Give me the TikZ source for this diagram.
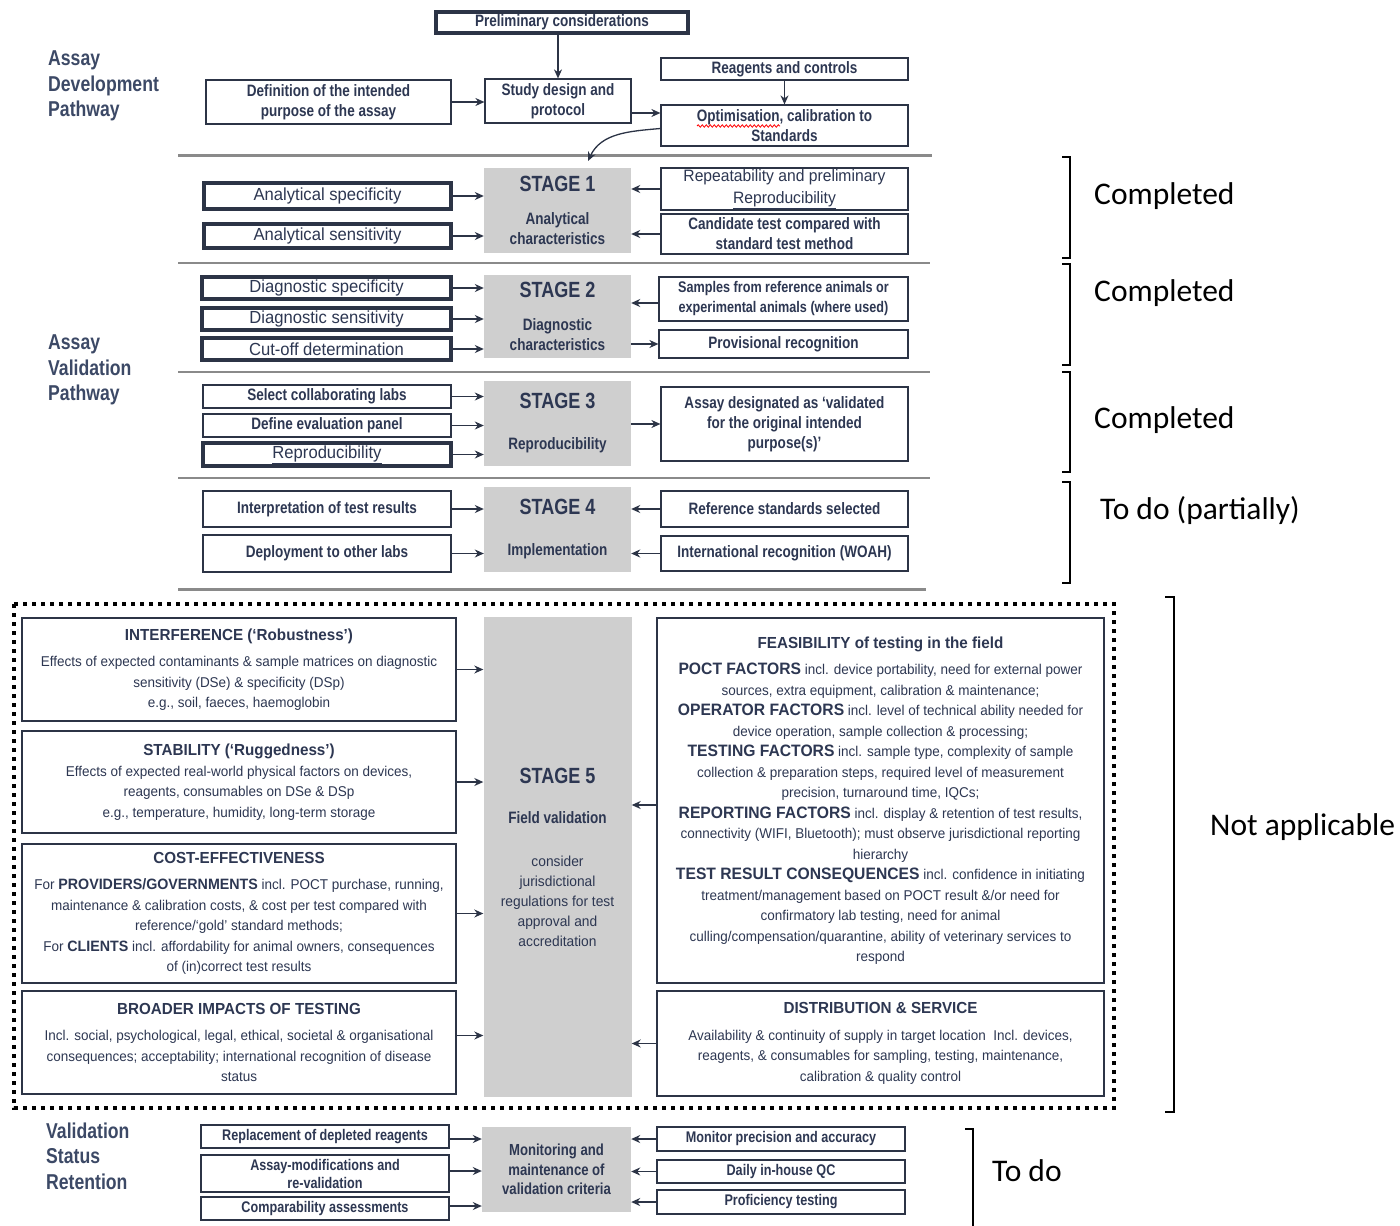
\documentclass[tikz,border=0pt]{standalone}
\usepackage{fontspec}
\setmainfont{Liberation Sans}
\newfontfamily\narrowfont[FakeStretch=0.82]{Liberation Sans}
\newfontfamily\bodyfont[FakeStretch=0.95]{Liberation Sans}
\newfontfamily\notefont{Carlito}
\usetikzlibrary{arrows.meta,decorations.pathmorphing}
\definecolor{ink}{HTML}{2D3752}
\definecolor{boxline}{HTML}{2C3446}
\definecolor{stagegray}{HTML}{CFCFCF}
\definecolor{sepgray}{HTML}{8A8A8A}
\definecolor{sidecol}{HTML}{3C4966}
\newcommand\stagetitle[1]{{\narrowfont\bfseries\fontsize{22}{26}\selectfont #1}}
\newcommand\kw[1]{{\bfseries\fontsize{16.5}{20}\selectfont #1}}
\newcommand\kwc[1]{{\bfseries\fontsize{15}{20}\selectfont #1}}
\tikzset{
  box/.style={draw=boxline, line width=1.2pt, fill=white, inner sep=1pt, align=center, text=ink},
  thickbox/.style={box, line width=3.4pt},
  lbl/.style={font=\narrowfont\bfseries\fontsize{16.5}{20}\selectfont},
  lbls/.style={font=\narrowfont\bfseries\fontsize{15.4}{20}\selectfont},
  big/.style={font=\bodyfont\fontsize{17.5}{22}\selectfont},
  body/.style={font=\bodyfont\fontsize{14.2}{20.5}\selectfont},
  stagebox/.style={fill=stagegray, inner sep=0pt, align=center, text=ink, font=\narrowfont\bfseries\fontsize{16.5}{20}\selectfont},
  arr/.style={draw=boxline, line width=1.3pt, -{Stealth[length=9pt,width=8pt]}},
  sepmajor/.style={draw=sepgray, line width=3pt},
  sepminor/.style={draw=sepgray, line width=1.8pt},
  bracket/.style={draw=black, line width=1.2pt},
  note/.style={font=\notefont\fontsize{31.5}{36}\selectfont, anchor=west, inner sep=0pt, text=black},
  side/.style={font=\narrowfont\bfseries\fontsize{21.5}{25.5}\selectfont, text=sidecol, align=left, anchor=west, inner sep=0pt},
  dotbox/.style={draw=black, line width=4pt, dash pattern=on 4pt off 5pt},
}
\begin{document}
\begin{tikzpicture}[x=1pt,y=-1pt]
\useasboundingbox (0,0) rectangle (1400,1226);
\fill[white] (0,0) rectangle (1400,1226);

% ---------- side labels ----------
\node[side] (adp) at (48,86) {Assay\\Development\\Pathway};
\node[side] (avp) at (48,370) {Assay\\Validation\\Pathway};
\node[side] (vsr) at (46,1156) {Validation\\Status\\Retention};

% ---------- development pathway ----------
\node[thickbox, lbl, minimum width=252, minimum height=21] (prelim) at (562,22.5) {Preliminary considerations};
\node[box, lbl, minimum width=245, minimum height=44] (def) at (328.5,102) {Definition of the intended\\purpose of the assay};
\node[box, lbl, minimum width=146, minimum height=44] (study) at (558,101) {Study design and\\protocol};
\node[box, lbl, minimum width=247, minimum height=22] (reag) at (784.5,69) {Reagents and controls};
\node[box, lbl, minimum width=247, minimum height=41] (opt) at (784.5,125.5) {Optimisation, calibration to\\Standards};
\draw[red, line width=0.8pt, decorate, decoration={snake, amplitude=1.2pt, segment length=4pt}] (697,126) -- (780,126);

\draw[arr] (prelim.south -| study.north) -- (study.north);
\draw[arr] (def) -- (def -| study.west);
\draw[arr] ([yshift=-12pt]study.east) -- ([yshift=-12pt]study.east -| opt.west);
\draw[arr] (reag) -- (opt);

\draw[sepmajor] (178,155) -- (932,155);
\coordinate (cend) at (588,161);
\draw[arr] ([yshift=-3pt]opt.west) to[out=185,in=65] (cend);

% ---------- stage 1 ----------
\node[stagebox, minimum width=147, minimum height=85] (s1) at (557.5,210.5) {\stagetitle{STAGE 1}\\[13pt]Analytical\\characteristics};
\node[thickbox, big, minimum width=247, minimum height=26] (as1) at (327.5,196) {Analytical specificity};
\node[thickbox, big, minimum width=247, minimum height=24] (as2) at (327.5,236) {Analytical sensitivity};
\node[box, font=\bodyfont\fontsize{16.5}{22}\selectfont, minimum width=247, minimum height=42] (r1) at (784.5,189) {Repeatability and preliminary\\\underline{Reproducibility}};
\node[box, lbl, minimum width=247, minimum height=40] (r2) at (784.5,234) {Candidate test compared with\\standard test method};
\draw[arr] (as1) -- (as1 -| s1.west);
\draw[arr] (as2) -- (as2 -| s1.west);
\draw[arr] (r1) -- (r1 -| s1.east);
\draw[arr] (r2) -- (r2 -| s1.east);
\draw[sepminor] (178,263) -- (930,263);

% ---------- stage 2 ----------
\node[stagebox, minimum width=147, minimum height=83] (s2) at (557.5,316.5) {\stagetitle{STAGE 2}\\[13pt]Diagnostic\\characteristics};
\node[thickbox, big, minimum width=249, minimum height=22] (ds1) at (326.5,288) {Diagnostic specificity};
\node[thickbox, big, minimum width=249, minimum height=22] (ds2) at (326.5,319) {Diagnostic sensitivity};
\node[thickbox, big, minimum width=249, minimum height=22] (ds3) at (326.5,349) {Cut-off determination};
\node[box, lbls, minimum width=249, minimum height=44] (samp) at (783.5,299) {Samples from reference animals or\\experimental animals (where used)};
\node[box, lbl, minimum width=249, minimum height=28] (prov) at (783.5,344) {Provisional recognition};
\draw[arr] (ds1) -- (ds1 -| s2.west);
\draw[arr] (ds2) -- (ds2 -| s2.west);
\draw[arr] (ds3) -- (ds3 -| s2.west);
\draw[arr] ([yshift=-4pt]samp.west) -- ([yshift=-4pt]samp.west -| s2.east);
\draw[arr] (prov.west -| s2.east) -- (prov.west);
\draw[sepminor] (178,372) -- (930,372);

% ---------- stage 3 ----------
\node[stagebox, minimum width=147, minimum height=85] (s3) at (557.5,423.5) {\stagetitle{STAGE 3}\\[21pt]Reproducibility};
\node[box, lbl, minimum width=248, minimum height=23] (sl1) at (327,396.5) {Select collaborating labs};
\node[box, lbl, minimum width=248, minimum height=23] (sl2) at (327,425.5) {Define evaluation panel};
\node[thickbox, big, minimum width=248, minimum height=23] (sl3) at (327,454.5) {\underline{Reproducibility}};
\node[box, lbl, minimum width=247, minimum height=74] (av) at (784.5,424) {Assay designated as ‘validated\\for the original intended\\purpose(s)’};
\draw[arr] (sl1) -- (sl1 -| s3.west);
\draw[arr] (sl2) -- (sl2 -| s3.west);
\draw[arr] (sl3) -- (sl3 -| s3.west);
\draw[arr] (av.west -| s3.east) -- (av.west);
\draw[sepminor] (178,478) -- (930,478);

% ---------- stage 4 ----------
\node[stagebox, minimum width=147, minimum height=85] (s4) at (557.5,529.5) {\stagetitle{STAGE 4}\\[21pt]Implementation};
\node[box, lbl, minimum width=248, minimum height=36] (it) at (327,509) {Interpretation of test results};
\node[box, lbl, minimum width=248, minimum height=37] (dp) at (327,553.5) {Deployment to other labs};
\node[box, lbl, minimum width=247, minimum height=36] (rs) at (784.5,509) {Reference standards selected};
\node[box, lbl, minimum width=247, minimum height=35] (ir) at (784.5,553.5) {International recognition (WOAH)};
\draw[arr] (it) -- (it -| s4.west);
\draw[arr] (dp) -- (dp -| s4.west);
\draw[arr] (rs) -- (rs -| s4.east);
\draw[arr] (ir) -- (ir -| s4.east);
\draw[sepmajor] (178,589) -- (926,589);

% ---------- stage 5 ----------
\draw[dotbox] (14,604) rectangle (1114,1108);
\node[stagebox, minimum width=148, minimum height=480] (s5) at (557.5,857)
  {\stagetitle{STAGE 5}\\[20pt]Field validation\\[23pt]\mdseries\bodyfont\fontsize{14.5}{20}\selectfont consider\\\mdseries\bodyfont\fontsize{14.5}{20}\selectfont jurisdictional\\\mdseries\bodyfont\fontsize{14.5}{20}\selectfont regulations for test\\\mdseries\bodyfont\fontsize{14.5}{20}\selectfont approval and\\\mdseries\bodyfont\fontsize{14.5}{20}\selectfont accreditation};

\node[box, body, minimum width=434, minimum height=103] (i5) at (239,669.5)
  {\bfseries\fontsize{16}{20}\selectfont INTERFERENCE (‘Robustness’)\\[6pt]
   Effects of expected contaminants \& sample matrices on diagnostic\\
   sensitivity (DSe) \& specificity (DSp)\\
   e.g., soil, faeces, haemoglobin};
\node[box, body, minimum width=434, minimum height=102] (st5) at (239,782)
  {\bfseries\fontsize{16}{20}\selectfont STABILITY (‘Ruggedness’)\\
   Effects of expected real-world physical factors on devices,\\
   reagents, consumables on DSe \& DSp\\
   e.g., temperature, humidity, long-term storage};
\node[box, body, minimum width=434, minimum height=139] (c5) at (239,913.5)
  {\bfseries\fontsize{16}{20}\selectfont COST-EFFECTIVENESS\\[6pt]
   For \kwc{PROVIDERS/GOVERNMENTS} incl. POCT purchase, running,\\
   maintenance \& calibration costs, \& cost per test compared with\\
   reference/‘gold’ standard methods;\\
   For \kwc{CLIENTS} incl. affordability for animal owners, consequences\\
   of (in)correct test results};
\node[box, body, minimum width=434, minimum height=103] (b5) at (239,1042.5)
  {\bfseries\fontsize{16}{20}\selectfont BROADER IMPACTS OF TESTING\\[6pt]
   Incl. social, psychological, legal, ethical, societal \& organisational\\
   consequences; acceptability; international recognition of disease\\
   status};
\node[box, body, minimum width=447, minimum height=365] (f5) at (880.5,800.5)
  {\bfseries\fontsize{16}{20}\selectfont FEASIBILITY of testing in the field\\[6pt]
   \kw{POCT FACTORS} incl. device portability, need for external power\\
   sources, extra equipment, calibration \& maintenance;\\
   \kw{OPERATOR FACTORS} incl. level of technical ability needed for\\
   device operation, sample collection \& processing;\\
   \kw{TESTING FACTORS} incl. sample type, complexity of sample\\
   collection \& preparation steps, required level of measurement\\
   precision, turnaround time, IQCs;\\
   \kw{REPORTING FACTORS} incl. display \& retention of test results,\\
   connectivity (WIFI, Bluetooth); must observe jurisdictional reporting\\
   hierarchy\\
   \kw{TEST RESULT CONSEQUENCES} incl. confidence in initiating\\
   treatment/management based on POCT result \&/or need for\\
   confirmatory lab testing, need for animal\\
   culling/compensation/quarantine, ability of veterinary services to\\
   respond};
\node[box, body, minimum width=447, minimum height=105] (d5) at (880.5,1043.5)
  {\bfseries\fontsize{16}{20}\selectfont DISTRIBUTION \& SERVICE\\[6pt]
   Availability \& continuity of supply in target location\ \ Incl. devices,\\
   reagents, \& consumables for sampling, testing, maintenance,\\
   calibration \& quality control};
\draw[arr] (i5) -- (i5 -| s5.west);
\draw[arr] (st5) -- (st5 -| s5.west);
\draw[arr] (c5) -- (c5 -| s5.west);
\draw[arr] ([yshift=7pt]b5.east) -- ([yshift=7pt]b5.east -| s5.west);
\draw[arr] ([yshift=-4.5pt]f5.west) -- ([yshift=-4.5pt]f5.west -| s5.east);
\draw[arr] (d5) -- (d5 -| s5.east);

% ---------- validation status retention ----------
\node[stagebox, font=\narrowfont\bfseries\fontsize{16}{19.5}\selectfont, minimum width=149, minimum height=85] (mon) at (556.5,1169.5) {Monitoring and\\maintenance of\\validation criteria};
\node[box, lbls, minimum width=248, minimum height=23] (bl1) at (325,1136.5) {Replacement of depleted reagents};
\node[box, minimum width=248, minimum height=37, font=\narrowfont\bfseries\fontsize{15.4}{18}\selectfont] (bl2) at (325,1173.5) {Assay-modifications and\\re-validation};
\node[box, lbls, minimum width=248, minimum height=23] (bl3) at (325,1208.5) {Comparability assessments};
\node[box, lbls, minimum width=248, minimum height=24] (br1) at (781,1139) {Monitor precision and accuracy};
\node[box, lbls, minimum width=248, minimum height=23] (br2) at (781,1171.5) {Daily in-house QC};
\node[box, lbls, minimum width=248, minimum height=24] (br3) at (781,1202) {Proficiency testing};
\draw[arr] ([yshift=-2.5pt]bl1.east) -- ([yshift=-2.5pt]bl1.east -| mon.west);
\draw[arr] ([yshift=2.5pt]bl2.east) -- ([yshift=2.5pt]bl2.east -| mon.west);
\draw[arr] ([yshift=2.5pt]bl3.east) -- ([yshift=2.5pt]bl3.east -| mon.west);
\draw[arr] (br1) -- (br1 -| mon.east);
\draw[arr] (br2) -- (br2 -| mon.east);
\draw[arr] (br3) -- (br3 -| mon.east);

% ---------- brackets and notes ----------
\draw[bracket] (1062,157) -- (1070,157) -- (1070,258) -- (1062,258);
\draw[bracket] (1062,264) -- (1070,264) -- (1070,365) -- (1062,365);
\draw[bracket] (1062,372) -- (1070,372) -- (1070,472) -- (1062,472);
\draw[bracket] (1062,482) -- (1070,482) -- (1070,583) -- (1062,583);
\draw[bracket] (1165,597) -- (1174,597) -- (1174,1112) -- (1165,1112);
\draw[bracket] (965,1129) -- (973,1129) -- (973,1226);
\node[note] (n1) at (1094,196) {Completed};
\node[note] (n2) at (1094,293) {Completed};
\node[note] (n3) at (1094,420) {Completed};
\node[note] (n4) at (1100,511) {To do (partially)};
\node[note] (n5) at (1210,827) {Not applicable};
\node[note] (n6) at (992,1171) {To do};
\end{tikzpicture}
\end{document}
